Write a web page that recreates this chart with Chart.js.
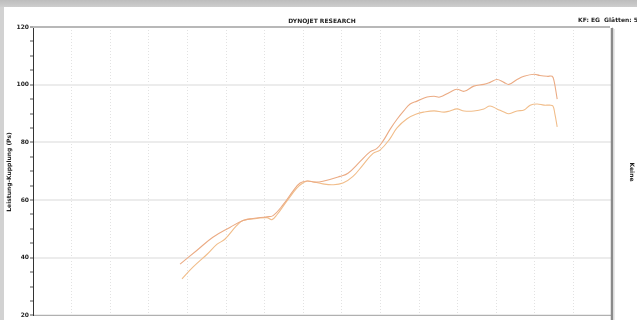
<!DOCTYPE html>
<html lang="de">
<head>
  <meta charset="UTF-8">
  <title>Dynojet Leistung</title>
  <script src="https://cdn.jsdelivr.net/npm/chart.js"></script>
  <style>
    html, body {
      margin: 0;
      padding: 0;
      background: #d2d2d2;
    }
    .wrap {
      width: 637px;
      height: 320px;
      position: relative;
    }
  </style>
</head>
<body>
  <div class="wrap">
    <canvas id="dyno" width="637" height="320"></canvas>
  </div>

  <script>
    // Lauf 1 (oben am Ende) – Drehzahl in 1000 U/min, Leistung in PS
    const rpmRun1 = [3.81, 4.25, 4.66, 5.10, 5.44, 5.70, 6.06, 6.22, 6.48, 6.74, 6.92, 7.10, 7.30, 7.51, 7.95, 8.16, 8.47, 8.73, 8.91, 9.07, 9.25, 9.43, 9.61, 9.77, 9.95, 10.21, 10.39, 10.54, 10.80, 10.98, 11.17, 11.42, 11.68, 11.84, 12.02, 12.20, 12.33, 12.54, 12.72, 12.98, 13.13, 13.32, 13.45, 13.50, 13.58];
    const psRun1  = [37.8, 42.6, 47.1, 50.5, 52.9, 53.6, 54.2, 54.6, 58.4, 63.2, 65.9, 66.6, 66.2, 66.5, 68.2, 69.3, 73.3, 76.7, 77.9, 80.5, 84.5, 88.0, 91.0, 93.3, 94.3, 95.7, 96.0, 95.7, 97.4, 98.4, 97.7, 99.5, 100.1, 100.8, 101.8, 100.8, 100.1, 101.8, 102.9, 103.6, 103.2, 102.9, 102.9, 101.2, 95.0];

    // Lauf 2 (unten am Ende)
    const rpmRun2 = [3.86, 4.15, 4.51, 4.77, 4.97, 5.28, 5.44, 5.80, 6.06, 6.19, 6.32, 6.58, 6.84, 6.99, 7.12, 7.51, 7.77, 8.03, 8.29, 8.55, 8.81, 8.99, 9.25, 9.43, 9.69, 9.95, 10.13, 10.39, 10.65, 10.80, 10.98, 11.17, 11.42, 11.68, 11.84, 12.02, 12.20, 12.33, 12.54, 12.72, 12.88, 13.06, 13.24, 13.39, 13.47, 13.52, 13.58];
    const psRun2  = [32.7, 36.8, 41.2, 44.7, 46.4, 51.2, 52.9, 53.6, 53.9, 53.2, 54.9, 59.7, 64.2, 65.9, 66.6, 65.6, 65.3, 65.9, 68.2, 72.2, 76.2, 77.3, 81.3, 85.0, 88.2, 89.9, 90.5, 90.9, 90.5, 90.9, 91.6, 90.9, 90.9, 91.6, 92.6, 91.6, 90.5, 89.9, 90.9, 91.2, 92.9, 93.3, 92.9, 92.9, 92.6, 89.9, 85.4];

    const yTicks = [20, 40, 60, 80, 100, 120];

    const toPoints = (xs, ys) => xs.map((x, i) => ({ x: x, y: ys[i] }));

    // page background, frame and header texts
    const sheet = {
      id: 'sheet',
      beforeDraw(chart) {
        const ctx = chart.ctx;
        ctx.save();
        ctx.fillStyle = '#d2d2d2';
        ctx.fillRect(0, 0, 637, 320);
        const g = ctx.createLinearGradient(0, 0, 0, 8);
        g.addColorStop(0, '#bdbdbd');
        g.addColorStop(1, '#d0d0d0');
        ctx.fillStyle = g;
        ctx.fillRect(0, 0, 637, 7);
        ctx.fillStyle = '#ffffff';
        ctx.fillRect(4, 7, 633, 313);
        ctx.restore();
      },
      afterDraw(chart) {
        const ctx = chart.ctx;
        const a = chart.chartArea;
        ctx.save();
        // top frame
        ctx.strokeStyle = '#b8b8b8';
        ctx.lineWidth = 2;
        ctx.beginPath();
        ctx.moveTo(a.left, a.top);
        ctx.lineTo(a.right - 2, a.top);
        ctx.stroke();
        // right frame
        ctx.strokeStyle = '#8a8a8a';
        ctx.lineWidth = 2.5;
        ctx.beginPath();
        ctx.moveTo(a.right, a.top + 1);
        ctx.lineTo(a.right, 320);
        ctx.stroke();
        ctx.strokeStyle = '#d4d4d4';
        ctx.lineWidth = 1;
        ctx.beginPath();
        ctx.moveTo(a.right + 2, a.top + 2);
        ctx.lineTo(a.right + 2, 320);
        ctx.stroke();

        ctx.fillStyle = '#1e1e1e';
        ctx.font = 'bold 6px "DejaVu Sans"';
        ctx.textBaseline = 'middle';
        ctx.textAlign = 'center';
        ctx.fillText('DYNOJET RESEARCH', 322, 21);
        ctx.textAlign = 'left';
        ctx.fillText('KF: EG  Glätten: 5', 578, 20);

        // axis title on the left
        ctx.save();
        ctx.translate(9, 172);
        ctx.rotate(-Math.PI / 2);
        ctx.textAlign = 'center';
        ctx.fillText('Leistung-Kupplung (Ps)', 0, 0);
        ctx.restore();

        // secondary axis caption on the right
        ctx.save();
        ctx.translate(632, 172);
        ctx.rotate(Math.PI / 2);
        ctx.textAlign = 'center';
        ctx.fillText('Keine', 0, 0);
        ctx.restore();
        ctx.restore();
      }
    };

    new Chart(document.getElementById('dyno'), {
      type: 'line',
      data: {
        datasets: [
          {
            label: 'Lauf 1',
            data: toPoints(rpmRun1, psRun1),
            borderColor: '#ebab84',
            borderWidth: 1.1,
            pointRadius: 0,
            tension: 0.4,
            fill: false
          },
          {
            label: 'Lauf 2',
            data: toPoints(rpmRun2, psRun2),
            borderColor: '#f1bd8a',
            borderWidth: 1.1,
            pointRadius: 0,
            tension: 0.4,
            fill: false
          }
        ]
      },
      options: {
        responsive: false,
        animation: false,
        layout: { padding: { left: 4, top: 27, right: 25, bottom: 1 } },
        plugins: {
          legend: { display: false },
          tooltip: { enabled: false }
        },
        scales: {
          x: {
            type: 'linear',
            min: 0,
            max: 15,
            ticks: { display: false, stepSize: 1 },
            grid: { color: '#e2e2e2', lineWidth: 1, drawTicks: false },
            border: { display: true, color: '#b0b0b0', dash: [1, 2] },
            afterFit: s => { s.height = 0; }
          },
          y: {
            min: 20,
            max: 120,
            ticks: {
              stepSize: 5,
              padding: 1,
              autoSkip: false,
              color: '#1e1e1e',
              font: { family: 'DejaVu Sans', size: 6, weight: 'bold' },
              callback: v => yTicks.includes(v) ? String(v) : ''
            },
            grid: {
              color: c => (c.tick && yTicks.includes(c.tick.value) && c.tick.value !== 120) ? '#ececec' : 'rgba(0,0,0,0)',
              lineWidth: 2,
              tickLength: 3,
              tickColor: '#555555',
              tickWidth: 1
            },
            border: { display: true, color: '#333333', width: 1 },
            afterFit: s => { s.width = 29; }
          }
        }
      },
      plugins: [sheet]
    });
  </script>
</body>
</html>
